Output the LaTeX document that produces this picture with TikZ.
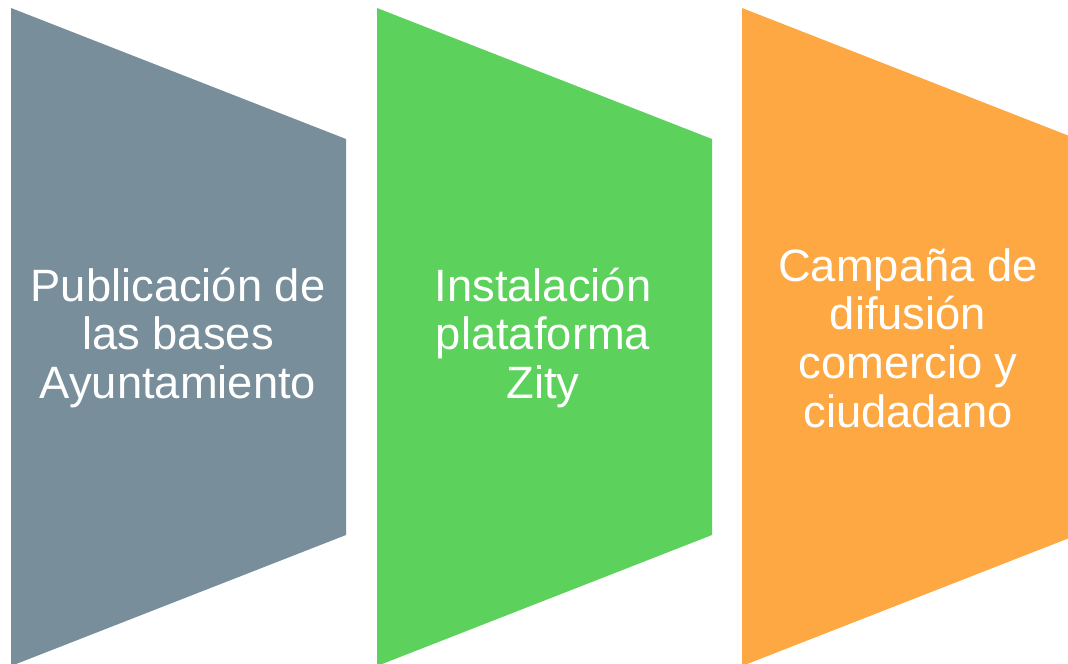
\documentclass[tikz,border=0pt]{standalone}
\usepackage{fontspec}
\setmainfont{Liberation Sans}
\usetikzlibrary{positioning}

\definecolor{stagegray}{HTML}{788E9A}
\definecolor{stagegreen}{HTML}{5CD15C}
\definecolor{stageorange}{HTML}{FDA842}

\tikzset{
    stagetext/.style={text=white, align=center, font=\fontsize{34}{36.5}\selectfont, inner sep=0pt},
}

\begin{document}
\begin{tikzpicture}[x=0.75pt, y=-0.75pt]
    \useasboundingbox (0,0) rectangle (1068,664);
    % chevrons
    \foreach \x/\col in {11/stagegray, 377/stagegreen, 742/stageorange} {
        \fill[\col] (\x,8) -- ++(335,131) -- ++(0,396) -- ++(-335,131) -- cycle;
    }

    \node[stagetext] (bases) at (178,338) {Publicación de\\las bases\\Ayuntamiento};
    \node[stagetext] (zity)  at (543,338) {Instalación\\plataforma\\Zity};
    \node[stagetext] (campana) at (908,338) {Campaña de\\difusión\\comercio y\\ciudadano};
\end{tikzpicture}
\end{document}
